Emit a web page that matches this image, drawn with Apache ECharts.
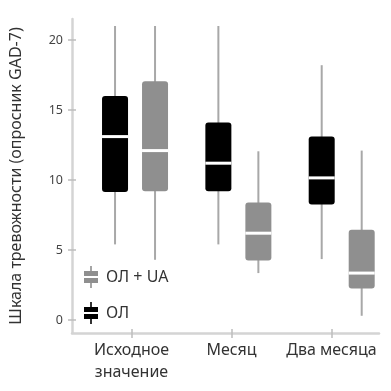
<!DOCTYPE html>
<html><head><meta charset="utf-8">
<script src="https://cdn.jsdelivr.net/npm/echarts@6/dist/echarts.min.js"></script>
<style>html,body{margin:0;padding:0;background:#fff}#c{width:391px;height:391px}</style>
</head><body><div id="c"></div>
<script>
const categories = ['Исходное\nзначение', 'Месяц', 'Два месяца'];
const seriesNames = ['ОЛ', 'ОЛ + UA'];
const olMin = [5.4, 5.4, 4.35];
const olQ1  = [9.15, 9.2, 8.25];
const olMed = [13.1, 11.2, 10.15];
const olQ3  = [16.0, 14.1, 13.1];
const olMax = [21, 21, 18.2];
const uaMin = [4.3, 3.35, 0.3];
const uaQ1  = [9.2, 4.25, 2.25];
const uaMed = [12.1, 6.2, 3.35];
const uaQ3  = [17.05, 8.4, 6.45];
const uaMax = [21, 12.05, 12.1];
const yTicks = [0, 5, 10, 15, 20];
const catIdx = [0, 1, 2];

const FONT = 'Noto Sans';
const BOX_W = 26;

function rows(mn, q1, md, q3, mx) {
  return categories.map((c, i) => [i, mn[i], q1[i], md[i], q3[i], mx[i]]);
}
function makeRender(offsetPx, fill) {
  return function (params, api) {
    const x = api.value(0);
    const top = api.coord([x, api.value(5)]);
    const bot = api.coord([x, api.value(1)]);
    const q3 = api.coord([x, api.value(4)]);
    const q1 = api.coord([x, api.value(2)]);
    const med = api.coord([x, api.value(3)]);
    const cx = top[0] + offsetPx;
    const w = BOX_W;
    return { type: 'group', children: [
      { type: 'line', shape: { x1: cx, y1: top[1], x2: cx, y2: bot[1] }, style: { stroke: '#a8a8a8', lineWidth: 2 } },
      { type: 'rect', shape: { x: cx - w / 2, y: q3[1], width: w, height: q1[1] - q3[1], r: 3 }, style: { fill: fill } },
      { type: 'line', shape: { x1: cx - w / 2, y1: med[1], x2: cx + w / 2, y2: med[1] }, style: { stroke: '#ffffff', lineWidth: 3 } }
    ]};
  };
}
const legendIcon = 'path://M6.2 0h1.6v5h-1.6Z M0 5h14v5h-14Z M0 12h14v5h-14Z M6.2 17h1.6v5h-1.6Z';

const chart = echarts.init(document.getElementById('c'), null, { renderer: 'canvas' });
const YMIN = -0.93, YMAX = 21.5;
const XMIN = -0.595, XMAX = 2.475;
chart.setOption({
  animation: false,
  backgroundColor: '#fff',
  textStyle: { fontFamily: FONT },
  grid: { left: 67, right: 12, top: 19, bottom: 58 },
  legend: {
    orient: 'vertical', left: 79, top: 261,
    itemWidth: 14, itemHeight: 22, itemGap: 14,
    data: [
      { name: 'ОЛ + UA', icon: legendIcon },
      { name: 'ОЛ', icon: legendIcon }
    ],
    textStyle: { fontFamily: FONT, fontSize: 16, color: '#333', padding: [0, 0, 0, 3] },
    selectedMode: false
  },
  xAxis: [
    { type: 'value', position: 'bottom', min: XMIN, max: XMAX,
      axisLine: { show: true, onZero: false, lineStyle: { color: '#d4d4d4', width: 2.5 } },
      axisTick: { show: true, customValues: catIdx, length: 5, lineStyle: { color: '#bdbdbd', width: 1.5 } },
      axisLabel: { show: true, customValues: catIdx, formatter: v => categories[Math.round(v)],
        fontFamily: FONT, fontSize: 16, lineHeight: 22, color: '#333', margin: 6 },
      splitLine: { show: false } },
    { type: 'value', position: 'bottom', min: -0.61, max: 2.361, show: false, splitLine: { show: false } },
    { type: 'value', position: 'bottom', min: XMIN, max: XMAX,
      axisLine: { show: false, onZero: false },
      axisTick: { show: true, inside: true, customValues: catIdx, length: 4, lineStyle: { color: '#bdbdbd', width: 1.5 } },
      axisLabel: { show: false }, splitLine: { show: false } }
  ],
  yAxis: [
    { type: 'value', position: 'left', min: YMIN, max: YMAX,
      name: 'Шкала тревожности (опросник GAD-7)', nameLocation: 'middle', nameGap: 48,
      nameTextStyle: { fontFamily: FONT, fontSize: 16, color: '#333' },
      axisLine: { show: true, onZero: false, lineStyle: { color: '#d4d4d4', width: 2.5 } },
      axisTick: { show: true, customValues: yTicks, length: 4, lineStyle: { color: '#bdbdbd', width: 1.5 } },
      axisLabel: { show: true, customValues: yTicks, fontFamily: FONT, fontSize: 12.5, color: '#444', margin: 9 },
      splitLine: { show: false } },
    { type: 'value', position: 'left', min: YMIN, max: YMAX,
      axisLine: { show: false, onZero: false },
      axisTick: { show: true, inside: true, customValues: yTicks, length: 4, lineStyle: { color: '#bdbdbd', width: 1.5 } },
      axisLabel: { show: false }, splitLine: { show: false } }
  ],
  series: [
    { name: 'ОЛ', type: 'custom', xAxisIndex: 1, yAxisIndex: 0,
      itemStyle: { color: '#000000' },
      encode: { x: 0, y: [1, 2, 3, 4, 5] },
      renderItem: makeRender(-20, '#000000'),
      data: rows(olMin, olQ1, olMed, olQ3, olMax) },
    { name: 'ОЛ + UA', type: 'custom', xAxisIndex: 1, yAxisIndex: 0,
      itemStyle: { color: '#8f8f8f' },
      encode: { x: 0, y: [1, 2, 3, 4, 5] },
      renderItem: makeRender(20, '#8f8f8f'),
      data: rows(uaMin, uaQ1, uaMed, uaQ3, uaMax) }
  ]
});
</script></body></html>
